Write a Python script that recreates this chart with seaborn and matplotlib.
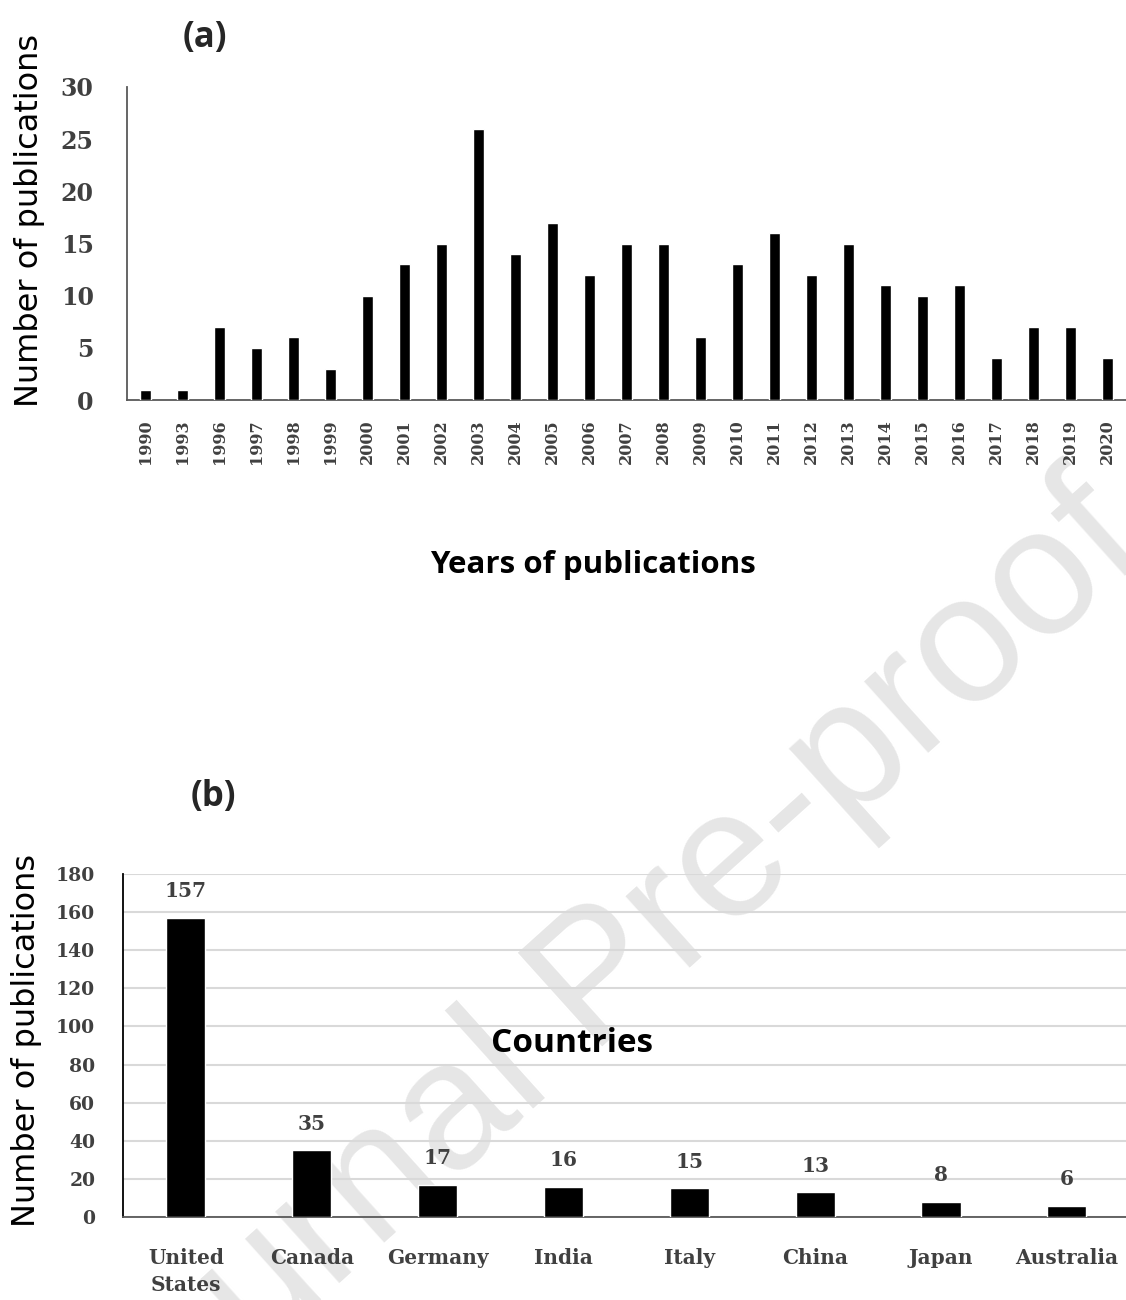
import matplotlib
matplotlib.use("Agg")
import matplotlib.pyplot as plt
import seaborn as sns
import pandas as pd

# ---- data ----
years = ["1990", "1993", "1996", "1997", "1998", "1999", "2000", "2001", "2002",
         "2003", "2004", "2005", "2006", "2007", "2008", "2009", "2010", "2011",
         "2012", "2013", "2014", "2015", "2016", "2017", "2018", "2019", "2020"]
pubs_per_year = [1, 1, 7, 5, 6, 3, 10, 13, 15, 26, 14, 17, 12, 15, 15, 6, 13, 16,
                 12, 15, 11, 10, 11, 4, 7, 7, 4]

countries = ["United\nStates", "Canada", "Germany", "India", "Italy", "China",
             "Japan", "Australia"]
pubs_per_country = [157, 35, 17, 16, 15, 13, 8, 6]

year_ticks = [0, 5, 10, 15, 20, 25, 30]
country_ticks = list(range(0, 181, 20))

sns.set_theme(style="white")
plt.rcParams["font.family"] = ["Open Sans", "DejaVu Sans"]

TICK_FONT = "DejaVu Serif"
TICK_COLOR = "#404040"
YLAB_FONT = "DejaVu Sans"

fig = plt.figure(figsize=(11.26, 13.0), dpi=100)
fig.patch.set_facecolor("white")

# watermark
fig.text(0.534, 0.243, "Journal Pre-proof", fontsize=130, color="#e6e6e6",
         rotation=42, rotation_mode="anchor", ha="center", va="center",
         family="Liberation Sans", zorder=-1)

# ---------- (a) ----------
ax1 = fig.add_axes([127 / 1126, 1 - 400 / 1300, 1 - 127 / 1126, (400 - 87) / 1300])
ax1.set_facecolor("none")
df1 = pd.DataFrame({"year": years, "n": pubs_per_year})
sns.barplot(data=df1, x="year", y="n", color="black", width=0.31,
            saturation=1, ax=ax1, zorder=3)
ax1.set_xlim(-0.5, 26.5)
ax1.set_ylim(0, 30)
ax1.set_yticks(year_ticks)
for s in ["top", "right"]:
    ax1.spines[s].set_visible(False)
for s in ["left", "bottom"]:
    ax1.spines[s].set_color("#595959")
    ax1.spines[s].set_linewidth(1.3)
ax1.tick_params(axis="y", length=0, pad=24)
ax1.tick_params(axis="x", length=0, pad=14)
for t in ax1.get_yticklabels():
    t.set_fontfamily(TICK_FONT); t.set_fontweight("bold")
    t.set_fontsize(17); t.set_color(TICK_COLOR)
for t in ax1.get_xticklabels():
    t.set_fontfamily(TICK_FONT); t.set_fontweight("bold")
    t.set_fontsize(11.5); t.set_color(TICK_COLOR); t.set_rotation(90)
ax1.set_ylabel("Number of publications", fontsize=23, color="black",
               family=YLAB_FONT)
ax1.yaxis.set_label_coords(-0.082, 0.575)
ax1.set_xlabel("Years of publications", fontsize=22.5, fontweight="bold",
               color="black")
ax1.xaxis.set_label_coords(0.466, -0.479)
fig.text(205 / 1126, 1 - 38 / 1300, "(a)", fontsize=25, fontweight="bold",
         ha="center", va="center")

# ---------- (b) ----------
ax2 = fig.add_axes([123 / 1126, 1 - 1217 / 1300, 1 - 123 / 1126, (1217 - 874) / 1300])
ax2.set_facecolor("none")
df2 = pd.DataFrame({"country": countries, "n": pubs_per_country})
sns.barplot(data=df2, x="country", y="n", color="black", width=0.31,
            saturation=1, ax=ax2, zorder=3)
ax2.set_xlim(-0.5, 7.47)
ax2.set_ylim(0, 180)
ax2.set_yticks(country_ticks)
ax2.grid(axis="y", color="#d9d9d9", linewidth=1.5, zorder=0)
ax2.set_axisbelow(True)
for s in ["top", "right"]:
    ax2.spines[s].set_visible(False)
ax2.spines["left"].set_color("black")
ax2.spines["left"].set_linewidth(1.3)
ax2.spines["bottom"].set_color("#595959")
ax2.spines["bottom"].set_linewidth(1.3)
ax2.tick_params(axis="y", length=0, pad=20)
ax2.tick_params(axis="x", length=0, pad=22)
for t in ax2.get_yticklabels():
    t.set_fontfamily(TICK_FONT); t.set_fontweight("bold")
    t.set_fontsize(13.5); t.set_color(TICK_COLOR)
for t in ax2.get_xticklabels():
    t.set_fontfamily(TICK_FONT); t.set_fontweight("bold")
    t.set_fontsize(14.5); t.set_color(TICK_COLOR)
    t.set_linespacing(1.45); t.set_va("top")
ax2.bar_label(ax2.containers[0], padding=12, fontsize=14.5, fontweight="bold",
              color=TICK_COLOR, family=TICK_FONT)
ax2.set_ylabel("Number of publications", fontsize=23, color="black",
               family=YLAB_FONT)
ax2.yaxis.set_label_coords(-0.081, 0.516)
ax2.set_xlabel("Countries", fontsize=24, fontweight="bold", color="black")
ax2.xaxis.set_label_coords(0.448, 0.553)
fig.text(213 / 1126, 1 - 797 / 1300, "(b)", fontsize=25, fontweight="bold",
         ha="center", va="center")

fig.savefig("out.png", dpi=100, facecolor="white")
